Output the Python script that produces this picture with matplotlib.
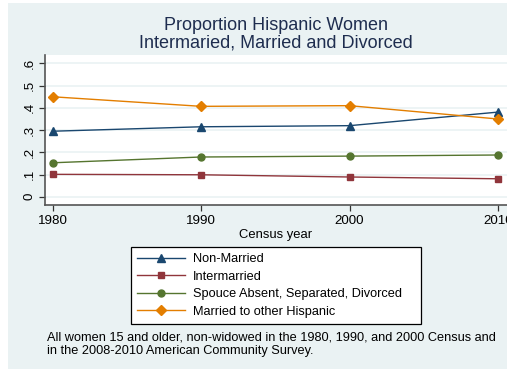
import matplotlib
matplotlib.use("Agg")
import matplotlib.pyplot as plt
from matplotlib.patches import Rectangle
from matplotlib.ticker import FuncFormatter

plt.rcParams['font.family'] = ['Liberation Sans', 'DejaVu Sans']

years = [1980, 1990, 2000, 2010]
non_married = [0.295, 0.315, 0.320, 0.381]
intermarried = [0.101, 0.099, 0.089, 0.081]
spouse_absent = [0.153, 0.179, 0.183, 0.188]
married_hisp = [0.450, 0.407, 0.410, 0.350]

series_names = ["Non-Married", "Intermarried",
                "Spouce Absent, Separated, Divorced", "Married to other Hispanic"]
yticks = [0, 0.1, 0.2, 0.3, 0.4, 0.5, 0.6]

# stata s2color palette
navy = "#1a476f"
maroon = "#90353b"
green = "#55752f"
orange = "#e37e00"
bg = "#eaf2f3"
txt = "#1e2d4f"

W, H = 507, 370
fig = plt.figure(figsize=(W / 100, H / 100), dpi=100)
fig.patch.set_facecolor("white")
fig.patches.append(Rectangle((8 / W, 1 - 369 / H), 499 / W, 366 / H,
                             transform=fig.transFigure, facecolor=bg,
                             edgecolor="none", zorder=0))

ax = fig.add_axes([45 / W, 1 - 205 / H, 462 / W, 150 / H])
ax.set_facecolor("white")
ax.set_zorder(1)

ax.plot(years, non_married, color=navy, lw=1.0, marker="^", ms=5.5)
ax.plot(years, intermarried, color=maroon, lw=1.0, marker="s", ms=4.6)
ax.plot(years, spouse_absent, color=green, lw=1.0, marker="o", ms=5)
ax.plot(years, married_hisp, color=orange, lw=1.0, marker="D", ms=4.8)

ax.set_xlim(1979.48, 2010.61)
ax.set_ylim(-0.037, 0.638)
ax.set_xticks(years)
ax.set_yticks(yticks)
ax.yaxis.set_major_formatter(FuncFormatter(
    lambda v, p: "0" if abs(v) < 1e-9 else ("%.1f" % v).lstrip("0")))
ax.grid(axis="y", color=bg, lw=1.2)
ax.set_axisbelow(True)

for s in ["top", "right"]:
    ax.spines[s].set_visible(False)
for s in ["left", "bottom"]:
    ax.spines[s].set_color("#555555")
    ax.spines[s].set_linewidth(1.2)
ax.tick_params(axis="both", colors="#333333", labelcolor="black",
               labelsize=9.6, length=4, width=0.9)
ax.tick_params(axis="y", labelrotation=90, pad=3)
for lab in ax.get_yticklabels():
    lab.set_verticalalignment("center")
ax.set_xlabel("Census year", fontsize=9.4, labelpad=1)

fig.text(276 / W, 1 - 25 / H, "Proportion Hispanic Women",
         ha="center", va="center", fontsize=13, color=txt)
fig.text(276 / W, 1 - 43 / H, "Intermaried, Married and Divorced",
         ha="center", va="center", fontsize=13, color=txt)

leg = fig.legend(ax.get_lines(), series_names, loc="upper left",
                 bbox_to_anchor=(131 / W, 1 - 325 / H, 290 / W, 78 / H),
                 mode="expand", fontsize=9.2,
                 frameon=True, fancybox=False, handlelength=3.75,
                 handletextpad=0.6, labelspacing=0.43, borderpad=0.5,
                 borderaxespad=0)
leg.get_frame().set_edgecolor("black")
leg.get_frame().set_linewidth(0.9)
leg.get_frame().set_facecolor("white")
leg.get_frame().set_alpha(1)

fig.text(47 / W, 1 - 338 / H,
         "All women 15 and older, non-widowed in the 1980, 1990, and 2000 Census and",
         ha="left", va="center", fontsize=9.2)
fig.text(47 / W, 1 - 351 / H,
         "in the 2008-2010 American Community Survey.",
         ha="left", va="center", fontsize=9.2)

fig.savefig("out.png", dpi=100)
